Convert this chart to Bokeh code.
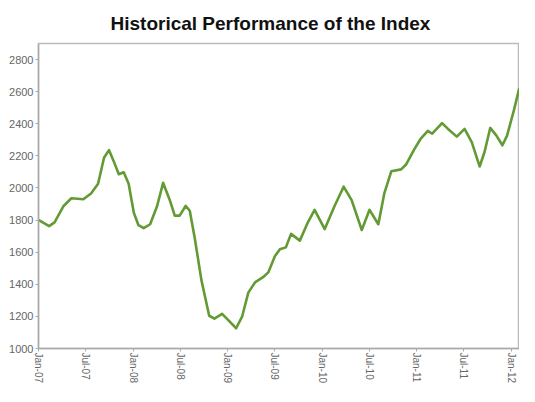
import math
import pandas as pd
from bokeh.plotting import figure
from bokeh.models import MonthsTicker, DatetimeTickFormatter, FixedTicker, Range1d
from bokeh.embed import file_html
from bokeh.resources import INLINE

dates = [
    "2007-01-04", "2007-02-11", "2007-03-04", "2007-04-08", "2007-05-08", "2007-06-23",
    "2007-07-23", "2007-08-19", "2007-09-11", "2007-09-30", "2007-10-19", "2007-11-07",
    "2007-11-26", "2007-12-15", "2008-01-04", "2008-01-22", "2008-02-11", "2008-03-07",
    "2008-04-03", "2008-04-26", "2008-05-22", "2008-06-10", "2008-06-29", "2008-07-22",
    "2008-08-07", "2008-08-26", "2008-09-21", "2008-10-21", "2008-11-10", "2008-12-10",
    "2008-12-28", "2009-02-02", "2009-02-25", "2009-03-21", "2009-04-17", "2009-05-17",
    "2009-06-06", "2009-07-02", "2009-07-21", "2009-08-13", "2009-09-02", "2009-10-06",
    "2009-11-06", "2009-12-02", "2010-01-10", "2010-02-17", "2010-03-24", "2010-04-24",
    "2010-06-02", "2010-07-02", "2010-08-05", "2010-08-28", "2010-09-24", "2010-11-01",
    "2010-11-20", "2010-12-20", "2011-01-16", "2011-02-12", "2011-03-01", "2011-04-08",
    "2011-05-01", "2011-06-04", "2011-07-04", "2011-08-01", "2011-08-31", "2011-09-19",
    "2011-10-11", "2011-11-04", "2011-11-27", "2011-12-15", "2012-01-11", "2012-01-30",
]
values = [
    1798, 1762, 1786, 1888, 1936, 1930,
    1966, 2026, 2188, 2236, 2164, 2086,
    2098, 2026, 1846, 1768, 1750, 1774,
    1888, 2032, 1924, 1828, 1828, 1888,
    1858, 1690, 1426, 1204, 1186, 1216,
    1186, 1126, 1198, 1348, 1414, 1444,
    1474, 1576, 1618, 1630, 1714, 1672,
    1786, 1864, 1744, 1888, 2008, 1924,
    1738, 1864, 1774, 1966, 2104, 2116,
    2146, 2236, 2308, 2356, 2338, 2404,
    2368, 2320, 2368, 2284, 2134, 2224,
    2374, 2326, 2266, 2326, 2488, 2614,
]
y_ticks = [1000, 1200, 1400, 1600, 1800, 2000, 2200, 2400, 2600, 2800]
title_text = "Historical Performance of the Index"

x = pd.to_datetime(dates)

p = figure(width=519, height=386, x_axis_type="datetime", output_backend="svg",
           toolbar_location=None,
           x_range=Range1d(pd.Timestamp("2007-01-01"), pd.Timestamp("2012-02-01")),
           y_range=Range1d(1000, 2900),
           min_border_left=38, min_border_right=0, min_border_top=0, min_border_bottom=0)

p.title.text = title_text
p.title.text_font = "Liberation Sans"
p.title.text_font_size = "19px"
p.title.text_font_style = "bold"
p.title.text_color = "#111111"
p.title.align = "left"
p.title.offset = 72
p.title.standoff = 20

p.line(x, values, line_color="#629a34", line_width=2.6, line_join="round", line_cap="round")

p.xgrid.visible = False
p.ygrid.visible = False
p.outline_line_color = "#bbbbbb"
p.outline_line_width = 1.5

for ax in (p.xaxis[0], p.yaxis[0]):
    ax.axis_line_color = "#aaaaaa"
    ax.axis_line_width = 1.5
    ax.major_tick_line_color = "#aaaaaa"
    ax.major_tick_in = 0
    ax.major_tick_out = 3
    ax.minor_tick_line_color = None
    ax.major_label_text_font = "Liberation Sans"
    ax.major_label_text_color = "#666666"

p.yaxis[0].major_label_text_font_size = "11px"
p.yaxis[0].major_label_standoff = 2
p.xaxis[0].major_label_text_font_size = "10px"
p.xaxis[0].major_label_standoff = 1

p.yaxis[0].ticker = FixedTicker(ticks=y_ticks)
p.xaxis[0].ticker = MonthsTicker(months=[0, 6])
p.xaxis[0].formatter = DatetimeTickFormatter(months="%b-%y", years="%b-%y", days="%b-%y")
p.xaxis[0].major_label_orientation = -math.pi / 2

open("out.html", "w").write(file_html(p, INLINE))
